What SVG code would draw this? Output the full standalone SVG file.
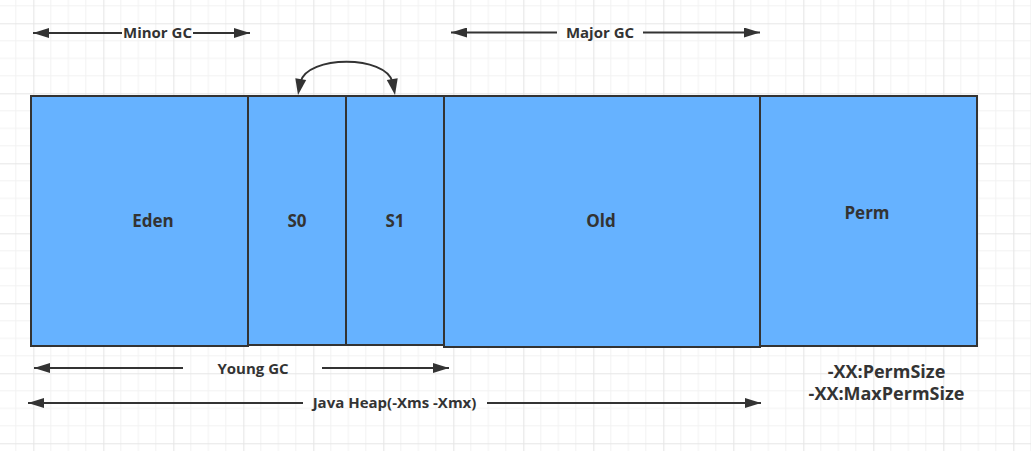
<svg xmlns="http://www.w3.org/2000/svg" width="1031" height="451" viewBox="0 0 1031 451">
<style>
.box{fill:#66b2ff;stroke:#333;stroke-width:2}
.lbl{font-family:"Open Sans","Noto Sans",sans-serif;font-weight:bold;fill:#333;text-anchor:middle}
.node{font-size:17px}
.cap{font-size:15px}
.big{font-size:18px}
.ln{stroke:#333;stroke-width:2;fill:none}
.head{fill:#333}
</style>
<defs>
<pattern id="grid" patternUnits="userSpaceOnUse" x="33.3" y="23.3" width="70" height="70">
<path d="M17.5 0V70M35 0V70M52.5 0V70M0 17.5H70M0 35H70M0 52.5H70" stroke="#f2f2f2" stroke-width="1" fill="none"/>
<path d="M0.5 0V70M0 0.5H70" stroke="#e6e6e6" stroke-width="1.2" fill="none"/>
</pattern>
<marker id="ah" markerUnits="userSpaceOnUse" markerWidth="16" markerHeight="10" refX="16" refY="5" orient="auto-start-reverse">
<path d="M0,0 L16,5 L0,10 z" fill="#333"/>
</marker>
</defs>
<rect width="1031" height="451" fill="#fff"/>
<rect width="1031" height="451" fill="url(#grid)"/>

<g id="eden"><rect class="box" x="31" y="96" width="217" height="250"/><text class="lbl node" x="153" y="227">Eden</text></g>
<g id="s0"><rect class="box" x="248" y="96" width="98" height="249"/><text class="lbl node" x="297" y="227">S0</text></g>
<g id="s1"><rect class="box" x="346" y="96" width="98" height="249"/><text class="lbl node" x="395" y="227">S1</text></g>
<g id="old"><rect class="box" x="444" y="96" width="316" height="251"/><text class="lbl node" x="601" y="227">Old</text></g>
<g id="perm"><rect class="box" x="760" y="96" width="217" height="250"/><text class="lbl node" x="867" y="219">Perm</text></g>

<g id="connectors">
<path class="ln" d="M300.5 82 C307 55 386 55 392.5 82"/>
<polygon class="head" points="298,95 306.2,80.1 295.3,78.2"/>
<polygon class="head" points="395,95 397.7,78.2 386.8,80.1"/>
<line class="ln" x1="33" y1="33" x2="122" y2="33" marker-start="url(#ah)"/>
<line class="ln" x1="193" y1="33" x2="250" y2="33" marker-end="url(#ah)"/>
<line class="ln" x1="451" y1="32.5" x2="557" y2="32.5" marker-start="url(#ah)"/>
<line class="ln" x1="643" y1="32.5" x2="760" y2="32.5" marker-end="url(#ah)"/>
<line class="ln" x1="34" y1="368" x2="183" y2="368" marker-start="url(#ah)"/>
<line class="ln" x1="322" y1="368" x2="449" y2="368" marker-end="url(#ah)"/>
<line class="ln" x1="28" y1="403" x2="303" y2="403" marker-start="url(#ah)"/>
<line class="ln" x1="487" y1="403" x2="761" y2="403" marker-end="url(#ah)"/>
</g>

<g id="labels">
<text class="lbl cap" x="157.5" y="38">Minor GC</text>
<text class="lbl cap" x="600" y="38">Major GC</text>
<text class="lbl cap" x="253" y="373.5">Young GC</text>
<text class="lbl cap" x="394.5" y="408">Java Heap(-Xms -Xmx)</text>
<text class="lbl big" x="886.5" y="377.5">-XX:PermSize</text>
<text class="lbl big" x="886.5" y="399.5">-XX:MaxPermSize</text>
</g>
</svg>
